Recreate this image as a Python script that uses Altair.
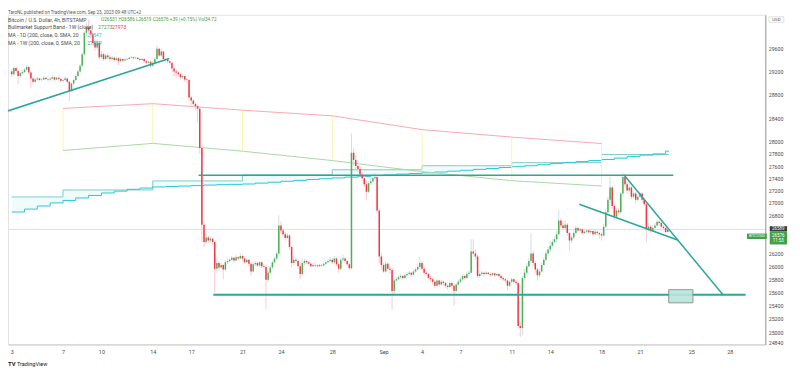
import altair as alt
import pandas as pd

# ---------------- data ----------------
# day numbers: Aug d -> d, Sep d -> 31 + d ; bars are 4h (6 per day) starting Aug 3 00:00
first_day = 3
open0 = 29200
close_4h = [
    29150, 29260, 29210, 29120, 29170, 29190,  # Aug 3
    29230, 29280, 29180, 29080, 29020, 29060,  # Aug 4
    29080, 29050, 29060, 29090, 29070, 29060,  # Aug 5
    29080, 29100, 29060, 29090, 29070, 29040,  # Aug 6
    29050, 29080, 29020, 28860, 28990, 29050,  # Aug 7
    29120, 29200, 29300, 29500, 29880, 29980,  # Aug 8
    29920, 29850, 29700, 29620, 29700, 29450,  # Aug 9
    29500, 29420, 29480, 29450, 29420, 29440,  # Aug 10
    29400, 29430, 29380, 29420, 29390, 29410,  # Aug 11
    29420, 29440, 29450, 29430, 29440, 29420,  # Aug 12
    29400, 29420, 29380, 29350, 29370, 29300,  # Aug 13
    29350, 29420, 29600, 29480, 29550, 29420,  # Aug 14
    29400, 29380, 29350, 29250, 29200, 29180,  # Aug 15
    29150, 29100, 29120, 29060, 29050, 28750,  # Aug 16
    28700, 28640, 28600, 28560, 27900, 26650,  # Aug 17
    26380, 26450, 26400, 26430, 26380, 25960,  # Aug 18
    26050, 25980, 26020, 25950, 26060, 26080,  # Aug 19
    26100, 26130, 26090, 26140, 26120, 26160,  # Aug 20
    26120, 26060, 26100, 26040, 25920, 26030,  # Aug 21
    26050, 26010, 26060, 26000, 25990, 25790,  # Aug 22
    25900, 25980, 26060, 26120, 26200, 26640,  # Aug 23
    26560, 26500, 26440, 26480, 26300, 26050,  # Aug 24
    26100, 26080, 26000, 25880, 26050, 26080,  # Aug 25
    26060, 26040, 26000, 26020, 26010, 26000,  # Aug 26
    26020, 26010, 26040, 26060, 26080, 26100,  # Aug 27
    26060, 26120, 26030, 25960, 26100, 26120,  # Aug 28
    26080, 26030, 25970, 27820, 27700, 27600,  # Aug 29
    27550, 27460, 27400, 27300, 27180, 27320,  # Aug 30
    27350, 27400, 27420, 26880, 26150, 26020,  # Aug 31
    25920, 26040, 25960, 25940, 25620, 25780,  # Sep 1
    25800, 25830, 25850, 25820, 25860, 25880,  # Sep 2
    25900, 25870, 25920, 25950, 25990, 26050,  # Sep 3
    25960, 25900, 25880, 25820, 25800, 25760,  # Sep 4
    25700, 25780, 25720, 25760, 25740, 25700,  # Sep 5
    25680, 25740, 25700, 25620, 25720, 25760,  # Sep 6
    25800, 25850, 25820, 25880, 25900, 26230,  # Sep 7
    26200, 26150, 25850, 25880, 25900, 25880,  # Sep 8
    25900, 25880, 25870, 25890, 25860, 25880,  # Sep 9
    25850, 25820, 25800, 25780, 25700, 25760,  # Sep 10
    25800, 25760, 25740, 25090, 25060, 25820,  # Sep 11
    25900, 26000, 26080, 26200, 26050, 25950,  # Sep 12
    25860, 25920, 26020, 26100, 26200, 26260,  # Sep 13
    26320, 26380, 26420, 26500, 26720, 26640,  # Sep 14
    26600, 26650, 26520, 26400, 26450, 26520,  # Sep 15
    26600, 26560, 26580, 26520, 26540, 26560,  # Sep 16
    26530, 26550, 26500, 26540, 26520, 26500,  # Sep 17
    26480, 26620, 26850, 27050, 27250, 26950,  # Sep 18
    26780, 26880, 26850, 27150, 27420, 27300,  # Sep 19
    27200, 27250, 27100, 27150, 27050, 27100,  # Sep 20
    27150, 27050, 26980, 26580, 26620, 26560,  # Sep 21
    26600, 26640, 26700, 26680, 26620, 26600,  # Sep 22
    26537, 26576,                              # Sep 23
]
high_4h = [
    29240, 29290, 29280, 29230, 29200, 29230,
    29260, 29310, 29290, 29200, 29100, 29090,
    29110, 29090, 29080, 29120, 29100, 29080,
    29100, 29140, 29110, 29110, 29100, 29080,
    29080, 29120, 29090, 29040, 29010, 29080,
    29150, 29230, 29330, 29520, 29920, 30060,
    30120, 30000, 29900, 29760, 29760, 29720,
    29560, 29530, 29510, 29520, 29490, 29470,
    29460, 29460, 29450, 29450, 29430, 29440,
    29440, 29460, 29470, 29460, 29460, 29450,
    29430, 29440, 29430, 29400, 29400, 29380,
    29380, 29450, 29660, 29620, 29600, 29560,
    29440, 29420, 29400, 29360, 29280, 29230,
    29200, 29170, 29150, 29130, 29090, 29070,
    28780, 28720, 28680, 28620, 28580, 27950,
    26700, 26520, 26480, 26470, 26450, 26400,
    26120, 26080, 26060, 26040, 26090, 26120,
    26130, 26160, 26140, 26170, 26160, 26200,
    26180, 26140, 26120, 26110, 26060, 26060,
    26080, 26070, 26080, 26070, 26030, 26010,
    25930, 26010, 26090, 26150, 26230, 26800,
    26700, 26600, 26540, 26520, 26500, 26320,
    26160, 26130, 26100, 26030, 26120, 26120,
    26100, 26080, 26060, 26050, 26040, 26030,
    26040, 26040, 26060, 26090, 26120, 26150,
    26130, 26160, 26140, 26050, 26140, 26180,
    26140, 26100, 26050, 28140, 27900, 27780,
    27650, 27600, 27500, 27440, 27350, 27360,
    27400, 27460, 27480, 27440, 26900, 26200,
    26050, 26080, 26060, 26000, 25980, 25820,
    25840, 25860, 25880, 25860, 25890, 25910,
    25930, 25910, 25950, 25980, 26040, 26150,
    26080, 25980, 25930, 25900, 25850, 25820,
    25790, 25800, 25790, 25790, 25780, 25760,
    25720, 25780, 25760, 25720, 25750, 25790,
    25830, 25880, 25870, 25920, 25940, 26420,
    26420, 26260, 26180, 25920, 25930, 25920,
    25920, 25910, 25900, 25910, 25900, 25900,
    25900, 25870, 25840, 25820, 25800, 25780,
    25830, 25820, 25780, 25760, 25150, 25850,
    25960, 26050, 26120, 26510, 26230, 26080,
    25980, 25960, 26060, 26140, 26240, 26300,
    26400, 26420, 26470, 26560, 26880, 26760,
    26700, 26720, 26680, 26540, 26480, 26580,
    26640, 26620, 26600, 26590, 26570, 26580,
    26580, 26580, 26560, 26570, 26560, 26540,
    26530, 26660, 26900, 27100, 27420, 27280,
    26980, 26920, 26920, 27180, 27490, 27440,
    27340, 27350, 27280, 27200, 27180, 27140,
    27180, 27170, 27080, 26990, 26680, 26650,
    26640, 26680, 26730, 26720, 26700, 26640,
    26620, 26586,
]
low_4h = [
    29110, 29130, 29180, 28980, 29090, 29150,
    29170, 29210, 29150, 28920, 28990, 29000,
    29040, 29030, 29030, 29050, 29050, 29040,
    29040, 29060, 29040, 29050, 29050, 29010,
    29010, 29030, 29000, 28690, 28840, 28970,
    29030, 29100, 29180, 29280, 29480, 29820,
    29880, 29780, 29650, 29560, 29580, 29400,
    29420, 29380, 29400, 29410, 29380, 29400,
    29370, 29380, 29310, 29360, 29360, 29380,
    29390, 29410, 29420, 29410, 29420, 29400,
    29380, 29390, 29360, 29320, 29340, 29260,
    29280, 29330, 29400, 29450, 29460, 29390,
    29360, 29340, 29320, 29180, 29120, 29100,
    29100, 29060, 29070, 29020, 29000, 28700,
    28620, 28580, 28540, 28320, 27800, 26380,
    26300, 26350, 26360, 26360, 26330, 25600,
    25900, 25930, 25960, 25800, 25920, 26030,
    26060, 26080, 26060, 26080, 26090, 26110,
    26080, 26030, 26040, 26000, 25850, 25900,
    26000, 25990, 25990, 25970, 25960, 25340,
    25750, 25880, 25960, 26040, 26090, 26170,
    26500, 26450, 26400, 26420, 26260, 25980,
    26020, 26040, 25960, 25800, 25860, 26020,
    26030, 26010, 25980, 25990, 25990, 25980,
    25990, 25990, 26000, 26020, 26050, 26060,
    26030, 26040, 26000, 25900, 25940, 26060,
    26040, 26000, 25940, 25950, 27600, 27550,
    27500, 27420, 27350, 27250, 27050, 27160,
    27290, 27330, 27360, 26850, 26050, 25950,
    25900, 25900, 25930, 25880, 25340, 25580,
    25760, 25790, 25810, 25790, 25800, 25840,
    25860, 25840, 25860, 25900, 25940, 25960,
    25930, 25870, 25850, 25790, 25760, 25720,
    25660, 25690, 25680, 25700, 25700, 25660,
    25640, 25660, 25650, 25400, 25600, 25700,
    25740, 25780, 25790, 25800, 25850, 25880,
    26150, 26100, 25820, 25820, 25850, 25840,
    25860, 25860, 25850, 25850, 25840, 25850,
    25820, 25790, 25770, 25740, 25630, 25680,
    25740, 25730, 25700, 25050, 24930, 24960,
    25780, 25880, 25980, 26050, 26000, 25900,
    25780, 25830, 25900, 26000, 26080, 26160,
    26220, 26300, 26350, 26380, 26480, 26600,
    26560, 26580, 26480, 26240, 26360, 26420,
    26500, 26530, 26540, 26500, 26500, 26520,
    26510, 26510, 26480, 26490, 26490, 26430,
    26400, 26450, 26600, 26800, 27000, 26900,
    26720, 26760, 26800, 26830, 27100, 27250,
    27150, 27170, 27060, 27070, 27000, 27020,
    27080, 27000, 26950, 26380, 26550, 26520,
    26540, 26580, 26620, 26640, 26580, 26560,
    26520, 26519,
]

# Bull market support band (weekly, Mondays)
band_days = [7, 14, 21, 28, 35, 42, 49]
band_red = [28565, 28645, 28534, 28438, 28205, 28080, 27973]
band_green = [27857, 27975, 27845, 27690, 27508, 27360, 27273]

# Moving averages (daily SMA stepping each day, weekly SMA stepping each Monday)
ma_days = list(range(3, 55))
ma_daily = [
    26854, 26900, 26950, 27000, 27040, 27080, 27120, 27160, 27190, 27220, 27240,
    27258, 27265, 27272, 27280, 27288, 27295, 27300,
    27306, 27320, 27335, 27350, 27365, 27380, 27392,
    27405, 27418, 27430, 27443, 27455, 27467, 27478,
    27488, 27502, 27516, 27530, 27545, 27560, 27575,
    27589, 27605, 27622, 27640, 27657, 27673, 27690,
    27707, 27730, 27755, 27780, 27800, 27847,
]
week_starts = [3, 7, 14, 21, 28, 35, 42, 49]
ma_weekly = [27096, 27209, 27356, 27455, 27539, 27605, 27656, 27790]
ma_end_day = 54.25

# Drawings
trend_days = [2.49, 15.29]
trend_prices = [28506, 29428]
support_days = [18.72, 60.24]
support_price = 25563
resist_days = [17.575, 54.6]
resist_price = 27450
wedge_hi_days = [50.74, 58.49]
wedge_hi_prices = [27458, 25557]
wedge_lo_days = [47.27, 54.99]
wedge_lo_prices = [26979, 26406]
box_days = [54.24, 56.13]
box_prices = [25439, 25639]
last_price = 26576

x_ticks = [3, 7, 10, 14, 17, 21, 24, 28, 32, 35, 38, 42, 45, 49, 52, 56, 59]
y_ticks = [24840, 25000, 25200, 25400, 25600, 25800, 26000, 26200, 26800, 27000,
           27200, 27400, 27600, 27800, 28000, 28400, 28800, 29200, 29600]

# ---------------- frames ----------------
opens = [open0] + close_4h[:-1]
candles = pd.DataFrame({
    "d": [first_day + i / 6 for i in range(len(close_4h))],
    "o": opens, "c": close_4h, "h": high_4h, "l": low_4h,
})

band = pd.DataFrame({"d": band_days, "red": band_red, "green": band_green})

wk = []
for dd in ma_days:
    idx = max(i for i, s in enumerate(week_starts) if s <= dd)
    wk.append(ma_weekly[idx])
ma = pd.DataFrame({"d": ma_days + [ma_end_day],
                   "daily": ma_daily + [ma_daily[-1]],
                   "weekly": wk + [wk[-1]]})

FONT = "Roboto"
XS = alt.Scale(domain=[3.099, 61.385], nice=False, zero=False)
YS = alt.Scale(type="log", domain=[24816, 30203], nice=False, zero=False)
XAX = alt.Axis(values=x_ticks, title=None, ticks=False, grid=False,
               labelExpr="datum.value == 32 ? 'Sep' : (datum.value > 31 ? '' + (datum.value - 31) : '' + datum.value)",
               labelFontSize=5.5, labelColor="#4a4a4a", labelFont=FONT, labelPadding=5,
               domainColor="#c8c8c8", labelOverlap=False, labelFlush=False)
YAX = alt.Axis(values=y_ticks, orient="right", title=None, ticks=False, grid=False,
               format="d", labelFontSize=5.3, labelColor="#4a4a4a", labelFont=FONT,
               labelPadding=3, domainColor="#9a9a9a", labelOverlap=False, labelFlush=False)


def X(f):
    return alt.X(f, type="quantitative", scale=XS, axis=XAX)


def Y(f):
    return alt.Y(f, type="quantitative", scale=YS, axis=YAX)


UP, DOWN = "#4caf50", "#f23645"
UPW, DOWNW = "#c9e2ea", "#fbc9cf"
TEAL = "#2aa795"

layers = []

# last price line
layers.append(alt.Chart(pd.DataFrame({"p": [last_price]})).mark_rule(
    color="#cfe8cf", strokeWidth=1).encode(y=Y("p")))

# MA fill + step lines
layers.append(alt.Chart(ma).mark_area(interpolate="step-after", color="#b2ebf2",
                                      opacity=0.2, clip=True).encode(
    x=X("d"), y=Y("daily"), y2="weekly"))
layers.append(alt.Chart(ma).mark_line(interpolate="step-after", color="#80cbc4",
                                      strokeWidth=1, clip=True).encode(x=X("d"), y=Y("weekly")))
layers.append(alt.Chart(ma).mark_line(interpolate="step-after", color="#26c6da",
                                      strokeWidth=1, clip=True).encode(x=X("d"), y=Y("daily")))

# Bull market support band
layers.append(alt.Chart(band).mark_rule(color="#fff3a8", strokeWidth=1).encode(
    x=X("d"), y=Y("red"), y2="green"))
layers.append(alt.Chart(band).mark_line(color="#f6a9ad", strokeWidth=1).encode(
    x=X("d"), y=Y("red")))
layers.append(alt.Chart(band).mark_line(color="#a9d8a6", strokeWidth=1).encode(
    x=X("d"), y=Y("green")))

# candles
cond = alt.condition(alt.datum.c >= alt.datum.o, alt.value(UP), alt.value(DOWN))
condw = alt.condition(alt.datum.c >= alt.datum.o, alt.value(UPW), alt.value(DOWNW))
layers.append(alt.Chart(candles).mark_rule(strokeWidth=1, clip=True).encode(
    x=X("d"), y=Y("l"), y2="h", color=condw))
layers.append(alt.Chart(candles).mark_bar(size=1.5, clip=True).encode(
    x=X("d"), y=Y("o"), y2="c", color=cond))

# drawings
def seg(days, prices, width):
    df = pd.DataFrame({"d": days, "p": prices})
    return alt.Chart(df).mark_line(color=TEAL, strokeWidth=width, clip=True).encode(
        x=X("d"), y=Y("p"))

layers.append(seg(trend_days, trend_prices, 1.5))
layers.append(seg(support_days, [support_price] * 2, 2))
layers.append(seg(resist_days, [resist_price] * 2, 1.5))
layers.append(seg(wedge_hi_days, wedge_hi_prices, 1.5))
layers.append(seg(wedge_lo_days, wedge_lo_prices, 1.5))
layers.append(alt.Chart(pd.DataFrame({"d": [box_days[0]], "d2": [box_days[1]],
                                      "p": [box_prices[0]], "p2": [box_prices[1]]}))
              .mark_rect(fill="#b9e4dc", stroke="#8a8a8a", strokeWidth=1, opacity=0.9)
              .encode(x=X("d"), x2="d2", y=Y("p"), y2="p2"))


# ---------------- text ----------------
def txt(s, x, y, color="#4a4a4a", size=5.2, weight="normal", align="left"):
    return alt.Chart(pd.DataFrame({"t": [s]})).mark_text(
        align=align, baseline="middle", fontSize=size, font=FONT, color=color,
        fontWeight=weight).encode(text="t:N", x=alt.value(x), y=alt.value(y))


def box(x1, x2, y1, y2, fill, stroke=None):
    kw = {"fill": fill}
    if stroke:
        kw["stroke"] = stroke
        kw["strokeWidth"] = 0.7
    return alt.Chart(pd.DataFrame({"a": [0]})).mark_rect(**kw).encode(
        x=alt.value(x1), x2=alt.value(x2), y=alt.value(y1), y2=alt.value(y2))


GRN = "#43a047"
layers += [
    txt("TaroNL published on TradingView.com, Sep 23, 2023 09:48 UTC+2", 0, -1.8, "#555555", 4.6),
    txt("Bitcoin / U.S. Dollar, 4h, BITSTAMP", 0, 5.3),
    txt("O26531 H26586 L26519 C26576 +39 (+0.15%) Vol34.72", 94, 5.3, GRN, 4.7),
    txt("Bullmarket Support Band - 1W (close)", 0, 12),
    txt("27273", 91, 12, GRN), txt("27973", 105, 12, "#f23645"),
    txt("MA - 1D (200, close, 0, SMA, 20", 0, 20),
    txt("27847", 80, 20, "#26c6da"),
    txt("MA - 1W (200, close, 0, SMA, 20", 0, 28),
    txt("27859", 80, 28, "#26a69a"),
    box(768.7, 783.7, 2, 7.5, "#ffffff", "#d0d0d0"),
    txt("USD", 776.2, 4.8, "#4a4a4a", 4.4, align="center"),
    box(769.5, 787, 213.5, 219, "#3c3c3c"),
    txt("26589", 778.2, 216.3, "#ffffff", 4.5, align="center"),
    box(769.5, 787, 219.3, 232, GRN),
    txt("26576", 778.2, 223.7, "#ffffff", 4.5, align="center"),
    txt("11:53", 778.2, 228.7, "#ffffff", 4.5, align="center"),
    box(746.5, 766.5, 221, 226.5, GRN),
    txt("BTCUSD", 756.5, 223.8, "#ffffff", 4.2, align="center"),
    txt("TV", 0, 353, "#131722", 6, weight="bold"),
    txt("TradingView", 9, 353, "#131722", 5.6),
]

chart = alt.layer(*layers).properties(
    width=765, height=333,
    padding={"left": 0, "top": 5, "right": 27, "bottom": 29},
    autosize=alt.AutoSizeParams(type="none"),
    background="#ffffff",
).configure_view(stroke="#e3e3e3")

chart.save("out.html", embed_options={"renderer": "svg", "actions": False})
